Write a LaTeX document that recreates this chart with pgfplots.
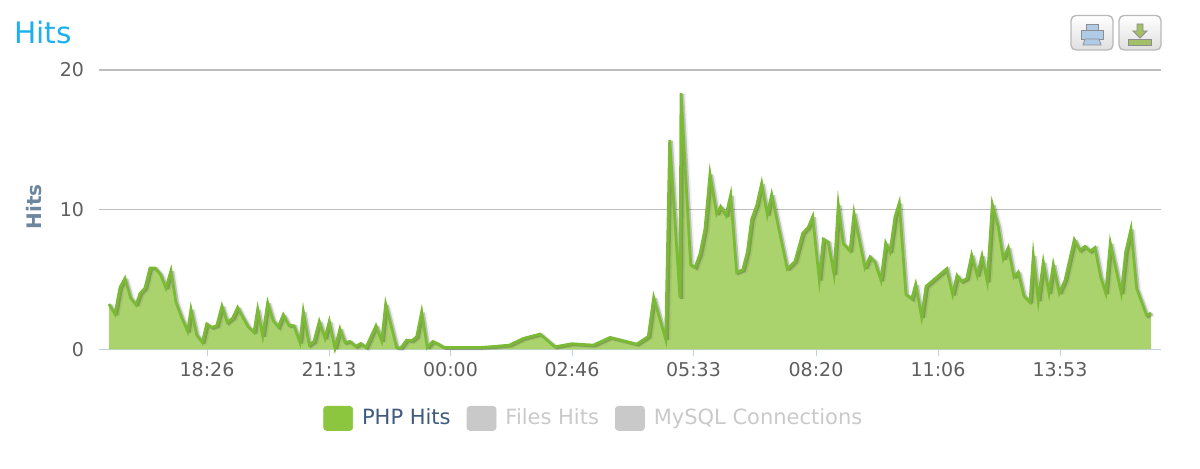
\documentclass[border=0pt]{standalone}
\usepackage{pgfplots}
\usepackage{pgfplotstable}
\usepackage{fontspec}
\setmainfont{DejaVu Sans}
\pgfplotsset{compat=1.18}
\definecolor{areafill}{HTML}{AAD36E}
\definecolor{arealine}{HTML}{7ABA35}
\definecolor{legendgreen}{HTML}{8CC63E}
\definecolor{legendgrey}{HTML}{C9C9C9}
\definecolor{ticktext}{HTML}{5E5E5E}
\definecolor{axisblue}{HTML}{C0D0E0}
\definecolor{gridgrey}{HTML}{BDBDBD}
\definecolor{ytitle}{HTML}{6D869F}
\definecolor{titleblue}{HTML}{1CB0EE}
\definecolor{legtext}{HTML}{3E5A7C}
\definecolor{iconblue}{HTML}{B0CBE8}
\definecolor{icongreen}{HTML}{A3BF68}
\definecolor{iconline}{HTML}{8E8E8E}
\pgfplotstableread{
x y
109 3.25
115 2.53
120 4.44
125 5.09
130.7 3.68
136 3.20
140 4.01
145 4.40
150 5.83
155 5.83
160.7 5.35
166 4.40
171 5.64
176 3.37
181.7 2.29
187.7 1.29
191 2.89
196.7 1.05
202.3 0.50
206.7 1.82
211.7 1.58
216.7 1.70
222 3.11
227.3 1.94
232.7 2.25
237.7 3.01
243.3 2.25
248.3 1.62
254 1.22
257.7 2.89
262.7 0.98
267.7 3.35
273.3 2.05
278.3 1.62
283.3 2.49
289 1.72
294 1.70
300 0.50
303.3 2.72
309.3 0.33
314 0.57
319.3 2.01
325 0.81
329.3 2.01
335 0.10
340 1.48
345 0.50
350 0.57
355.7 0.22
360.7 0.43
366 0.14
376 1.70
381.7 0.62
385.7 3.25
396.7 0.14
400.7 0.10
406.7 0.67
411.7 0.62
416.7 0.91
421.7 2.70
427.3 0.14
432.7 0.57
438.3 0.38
444 0.14
480 0.14
495 0.22
509.3 0.31
523.3 0.79
540 1.10
555 0.19
571.7 0.41
593.3 0.31
610 0.86
636.7 0.38
648.3 0.93
653.7 3.73
665.7 0.74
669.7 15.0
680 3.68
681 18.35
690.7 6.05
695 5.88
700 6.83
705 8.63
710 12.57
716.7 9.70
720.7 10.23
726 9.58
730.7 11.06
736.7 5.52
742.7 5.69
747.3 6.95
751.7 9.34
756.7 10.30
761.7 11.90
767.3 9.65
771.7 11.09
787.3 5.76
795 6.31
802.7 8.32
808.3 8.75
812.7 9.51
819.3 5.00
823.3 7.89
828.3 7.67
834 5.40
838.3 10.37
843.3 7.57
850 7.05
854 9.77
865 5.85
870 6.62
875 6.26
881 4.95
885.7 7.62
890 6.98
895 9.49
899.3 10.49
906 3.94
911.7 3.63
915.7 4.66
921.7 2.32
926 4.52
946.7 5.78
952.7 3.94
957 5.30
961.7 4.87
966.7 5.07
971.7 6.76
977.3 5.30
982 6.71
987.3 4.87
992.3 10.39
998.3 8.77
1003.3 6.50
1008.3 7.29
1014 5.19
1018.3 5.54
1024 3.82
1030 3.39
1033.3 6.74
1038.3 3.51
1043.3 6.26
1049 4.04
1053.3 6.07
1059.3 4.04
1065 4.95
1074.3 7.86
1080 7.10
1085 7.38
1090 7.04
1095 7.29
1100.7 5.19
1105.7 4.04
1110.3 7.62
1121.3 4.04
1125.7 6.98
1131 8.63
1136.7 4.35
1146.7 2.44
1151 2.60
}\hits
\begin{document}
\begin{tikzpicture}
\useasboundingbox (0,0) rectangle (600pt,-234.5pt);
\begin{axis}[
  at={(49.5pt,-174.75pt)}, anchor=origin,
  scale only axis, width=531pt, height=139.75pt,
  xmin=99, xmax=1161, ymin=0, ymax=20,
  axis lines=left, clip=false,
  x axis line style={draw=axisblue, line width=0.6pt, -},
  y axis line style={draw=none, -},
  xtick={207,329,450.5,572,693.5,816,938,1060},
  xticklabels={18:26,21:13,00:00,02:46,05:33,08:20,11:06,13:53},
  ytick={0,10,20},
  tick align=outside,
  xtick style={draw=axisblue, line width=0.5pt},
  major tick length=3.5pt,
  ytick style={draw=none},
  ymajorgrids, grid style={draw=gridgrey, line width=0.65pt},
  tick label style={font=\fontsize{9.5}{11}\selectfont, text=ticktext},
  /pgf/number format/assume math mode=true,
  xticklabel style={yshift=0.5pt},
  yticklabel style={xshift=-0.5pt},
  ylabel={\textbf{Hits}},
  ylabel style={font=\fontsize{10}{11}\selectfont, text=ytitle, at={(axis description cs:-0.0612,0.51)}, anchor=center},
  legend style={at={(axis cs:594.8,-4.93)}, anchor=center, draw=none, fill=none, inner sep=0pt, outer sep=0pt,
    font=\fontsize{10.5}{12}\selectfont, legend columns=3,
    /tikz/every even column/.append style={column sep=6pt}},
  legend cell align=left,
]
\addlegendimage{legend image code/.code={\fill[legendgreen, rounded corners=1.5pt] (0pt,-6pt) rectangle (14.5pt,6pt); \path (17pt,0pt);}}
\addlegendimage{legend image code/.code={\fill[legendgrey, rounded corners=1.5pt] (0pt,-6pt) rectangle (14.5pt,6pt); \path (17pt,0pt);}}
\addlegendimage{legend image code/.code={\fill[legendgrey, rounded corners=1.5pt] (0pt,-6pt) rectangle (14.5pt,6pt); \path (17pt,0pt);}}
\addplot[forget plot, fill=areafill, draw=none] table[x=x,y=y] {\hits} \closedcycle;
\addplot[forget plot, draw=black, opacity=0.06, line width=2.2pt, miter limit=2, shift={(1.3pt,-0.5pt)}] table[x=x,y=y] {\hits};
\addplot[forget plot, draw=black, opacity=0.2, line width=1.5pt, miter limit=2, shift={(0.8pt,-0.4pt)}] table[x=x,y=y] {\hits};
\addplot[forget plot, draw=arealine, line width=1.4pt, miter limit=12] table[x=x,y=y] {\hits};
\legend{\textcolor{legtext}{PHP Hits},\textcolor{legendgrey}{Files Hits},\textcolor{legendgrey}{MySQL Connections}}
\end{axis}
\begin{scope}[x=0.5pt,y=-0.5pt]
\node[anchor=west, inner sep=0pt, text=titleblue, font=\fontsize{14.8}{16}\selectfont] at (14,32) {Hits};
% buttons
\foreach \bx in {1071,1119}{
  \shade[top color=white, bottom color=gray!25, draw=gray!55, line width=0.7pt, rounded corners=2.5pt]
    (\bx,15.5) rectangle (\bx+42,50);
}
\filldraw[fill=iconblue, draw=iconline, line width=0.4pt] (1086,24) rectangle (1098,30);
\filldraw[fill=iconblue, draw=iconline, line width=0.4pt] (1081,30) rectangle (1103,39);
\filldraw[fill=iconblue, draw=iconline, line width=0.4pt] (1085,39) -- (1099,39) -- (1101,45) -- (1083,45) -- cycle;
\filldraw[fill=icongreen, draw=iconline, line width=0.4pt] (1128,39) rectangle (1151,45);
\filldraw[fill=icongreen, draw=iconline, line width=0.4pt] (1137,24) -- (1143,24) -- (1143,31) -- (1147,31) -- (1140,38) -- (1133,31) -- (1137,31) -- cycle;
\end{scope}
\end{tikzpicture}
\end{document}
